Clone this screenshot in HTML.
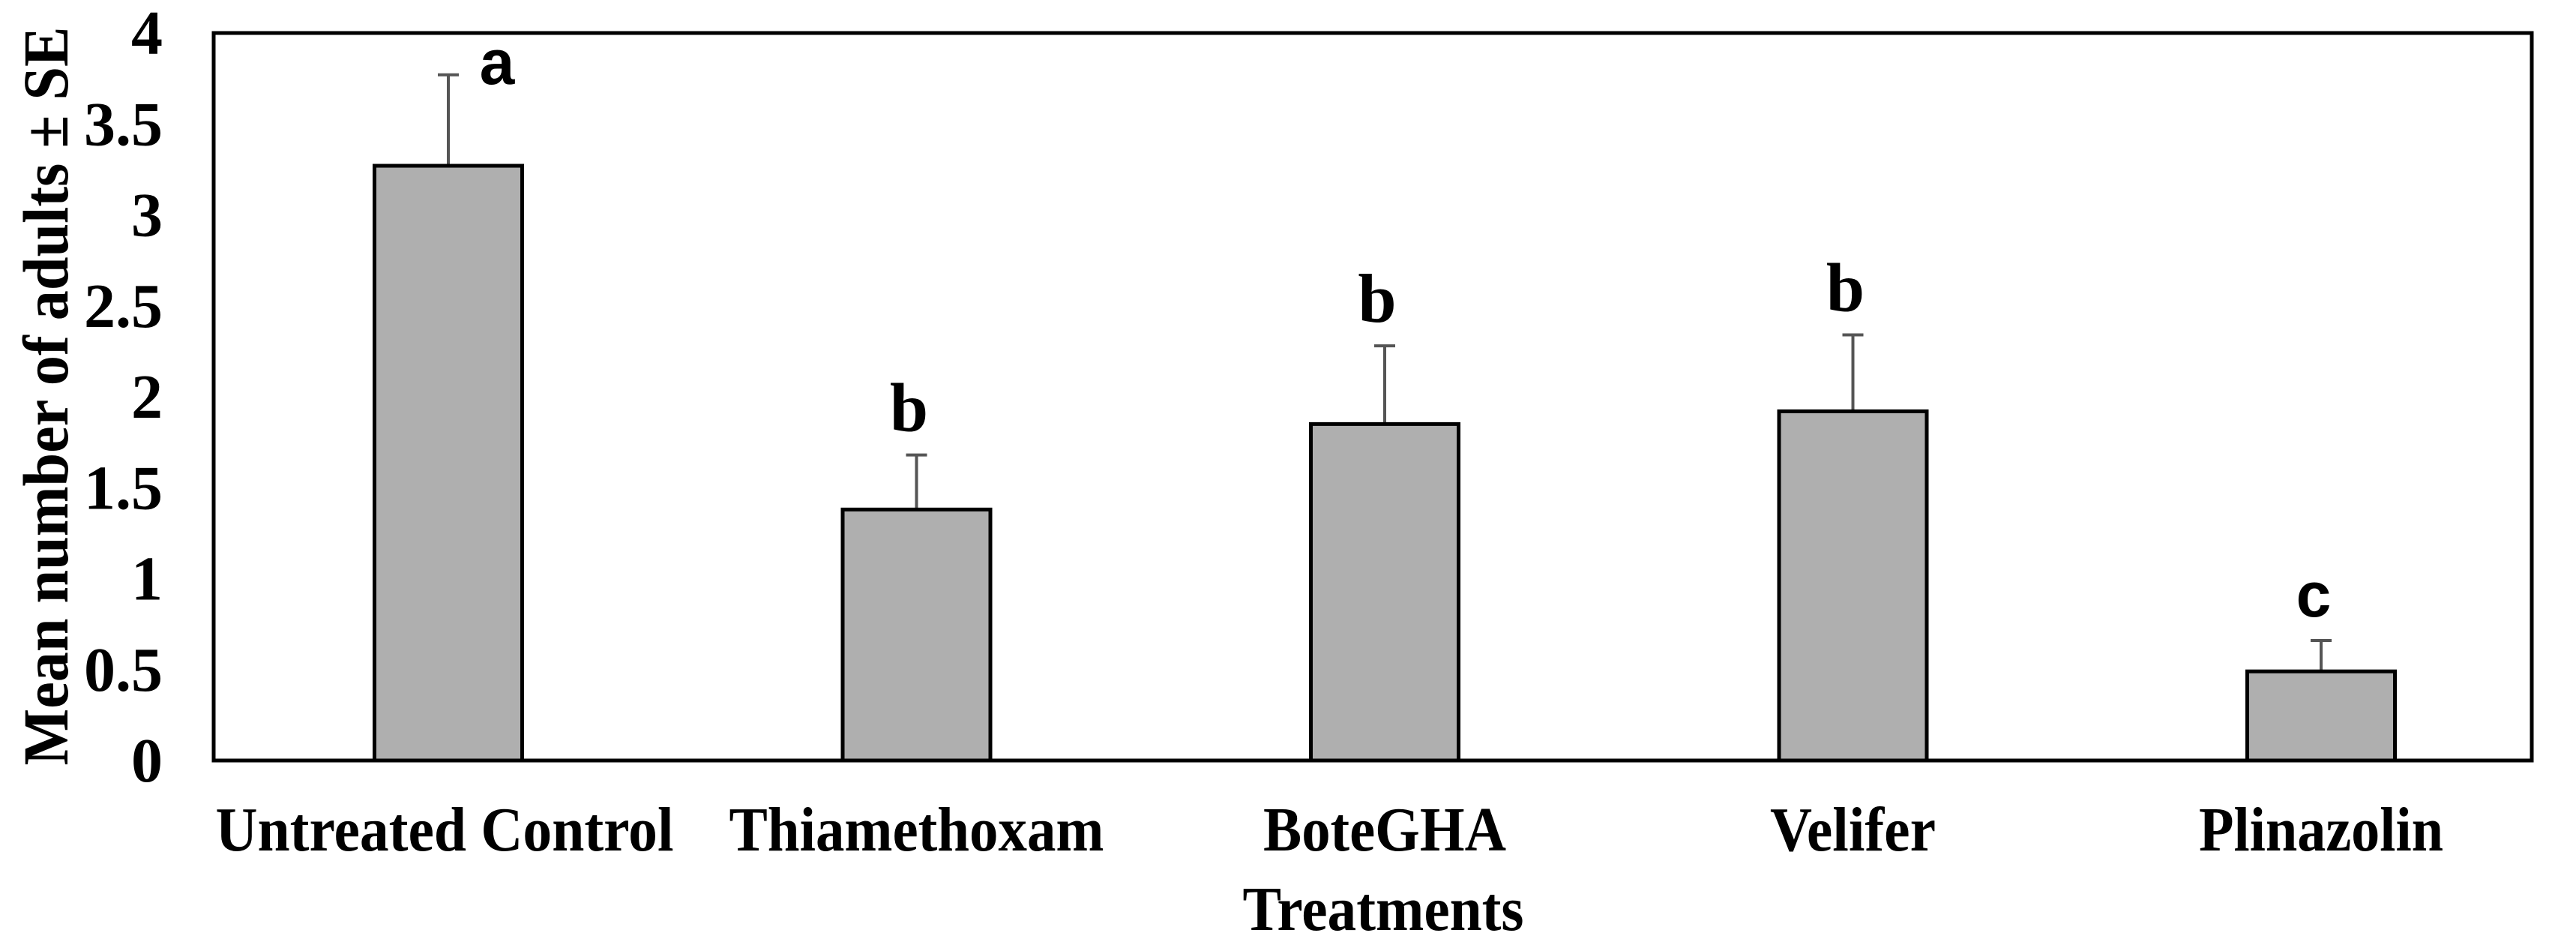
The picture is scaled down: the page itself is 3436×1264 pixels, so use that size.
<!DOCTYPE html>
<html><head><meta charset="utf-8"><style>
html,body{margin:0;padding:0;background:#fff;}
svg{display:block;}
</style></head><body>
<svg id="chart" width="3436" height="1264" viewBox="0 0 3436 1264" xmlns="http://www.w3.org/2000/svg">
<rect x="0" y="0" width="3436" height="1264" fill="#fff"/>
<g id="marks"></g>
<rect x="285" y="44" width="3092" height="970" fill="none" stroke="#000" stroke-width="5"/>
<g id="yticks"></g>
<g id="xlabels"></g>
<text x="1845" y="1240" text-anchor="middle" font-family="Liberation Serif, serif" font-weight="bold" font-size="84" textLength="375" lengthAdjust="spacingAndGlyphs">Treatments</text>
<text transform="translate(90,528) rotate(-90)" text-anchor="middle" font-family="Liberation Serif, serif" font-weight="bold" font-size="86" textLength="985" lengthAdjust="spacingAndGlyphs">Mean number of adults ± SE</text>
</svg>
<script>
const categories = ["Untreated Control","Thiamethoxam","BoteGHA","Velifer","Plinazolin"];
const means = [3.27, 1.38, 1.85, 1.92, 0.49];
const errors = [0.50, 0.30, 0.43, 0.42, 0.17];
const groups = ["a","b","b","b","c"];
const yTicks = [0,0.5,1,1.5,2,2.5,3,3.5,4];
const yTickLabels = ["0","0.5","1","1.5","2","2.5","3","3.5","4"];

const NS="http://www.w3.org/2000/svg";
const B=1014,T=44,YMAX=4,X0=598,STEP=624.5;
function xC(i){return X0+STEP*i;}
function yS(v){return B-(v/YMAX)*(B-T);}
function mk(tag,attrs,parent){const e=document.createElementNS(NS,tag);for(const k in attrs)e.setAttribute(k,attrs[k]);parent.appendChild(e);return e;}
const marks=document.getElementById('marks');
const bw=197;
categories.forEach((c,i)=>{
  const cx=xC(i);
  const top=yS(means[i]);
  const et=yS(means[i]+errors[i]);
  const eb=mk('line',{x1:cx,y1:top,x2:cx,y2:et,stroke:'#555',"stroke-width":4},marks);
  
  
  const cap=mk('line',{x1:cx-14,y1:et,x2:cx+14,y2:et,stroke:'#555',"stroke-width":4},marks);
  
  
  const r=mk('rect',{x:cx-bw/2,y:top,width:bw,height:B-top,fill:'#afafaf',stroke:'#000',"stroke-width":5},marks);
  
  
  const g=groups[i];
  const serif=(g==='b');
  const lx = g==='a' ? cx+65 : cx-10;
  const t=mk('text',{x:lx,y:et-(g==='a'?-12:32),"text-anchor":"middle","font-family":serif?"Liberation Serif, serif":"Liberation Sans, sans-serif","font-weight":"bold","font-size":serif?92:84},marks);
  t.textContent=g;
  
  
});
const yt=document.getElementById('yticks');
yTicks.forEach((v,i)=>{
  const t=mk('text',{x:217,y:yS(v)+28,"text-anchor":"end","font-family":"Liberation Serif, serif","font-weight":"bold","font-size":84},yt);
  t.textContent=yTickLabels[i];
  
  
});
const xl=document.getElementById('xlabels');
const labelWidths=[611,500,324,221,326];
categories.forEach((c,i)=>{
  const t=mk('text',{x:xC(i)+ (i===0?-5:0),y:1134,"text-anchor":"middle","font-family":"Liberation Serif, serif","font-weight":"bold","font-size":84,textLength:labelWidths[i],lengthAdjust:"spacingAndGlyphs"},xl);
  t.textContent=c;
  
  
});
</script>
</body></html>
